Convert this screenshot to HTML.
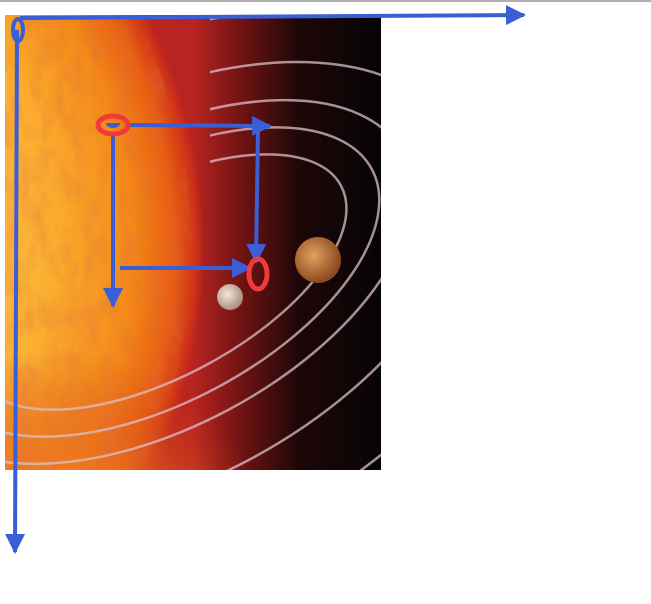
<!DOCTYPE html>
<html><head><meta charset="utf-8"><style>
html,body{margin:0;padding:0;background:#fff;width:651px;height:604px;overflow:hidden}
svg{display:block}
</style></head><body>
<svg width="651" height="604" viewBox="0 0 651 604">
<defs>
<radialGradient id="sunG" cx="-320" cy="250" r="525" gradientUnits="userSpaceOnUse">
<stop offset="0" stop-color="#ffe090"/>
<stop offset="0.7" stop-color="#fbb030"/>
<stop offset="0.86" stop-color="#f48a18"/>
<stop offset="0.94" stop-color="#e85e12"/>
<stop offset="0.985" stop-color="#cc3018"/>
<stop offset="1" stop-color="#c02820" stop-opacity="0"/>
</radialGradient>
<radialGradient id="glowG" cx="60" cy="560" r="210" gradientUnits="userSpaceOnUse">
<stop offset="0.4" stop-color="#f07a20" stop-opacity="0.9"/>
<stop offset="1" stop-color="#d04018" stop-opacity="0"/>
</radialGradient>
<linearGradient id="spaceG" x1="5" x2="381" y1="0" y2="0" gradientUnits="userSpaceOnUse">
<stop offset="0" stop-color="#c02a20"/>
<stop offset="0.5" stop-color="#b82420"/>
<stop offset="0.64" stop-color="#6a1212"/>
<stop offset="0.78" stop-color="#1e0708"/>
<stop offset="1" stop-color="#060406"/>
</linearGradient>
<radialGradient id="venusG" cx="0.4" cy="0.4" r="0.6">
<stop offset="0" stop-color="#e0a060"/><stop offset="1" stop-color="#8a4a20"/>
</radialGradient>
<radialGradient id="moonG" cx="0.4" cy="0.4" r="0.6">
<stop offset="0" stop-color="#f4e6d6"/><stop offset="1" stop-color="#a89080"/>
</radialGradient>
<clipPath id="imgClip"><rect x="5" y="15" width="376" height="455"/></clipPath>
<clipPath id="sunClip"><circle cx="-320" cy="250" r="512"/></clipPath>
<clipPath id="orbClip"><polygon points="210,0 400,0 400,500 0,500 0,370 210,258"/></clipPath>
<filter id="tex" x="0" y="0" width="1" height="1">
<feTurbulence type="fractalNoise" baseFrequency="0.06 0.03" numOctaves="3" seed="4"/>
<feColorMatrix values="0 0 0 0 0.75  0 0 0 0 0.15  0 0 0 0 0.05  0 0 0 1.4 -0.55"/>
</filter>
<marker id="ah" viewBox="0 0 10 10" refX="9" refY="5" markerWidth="5" markerHeight="5" orient="auto-start-reverse">
<path d="M0,0 L10,5 L0,10 z" fill="#3a5ed6"/></marker>
</defs>
<line x1="0" y1="1" x2="651" y2="1" stroke="#b0b0b0" stroke-width="2"/>
<g clip-path="url(#imgClip)">
<rect x="5" y="15" width="376" height="455" fill="url(#spaceG)"/>
<circle cx="-320" cy="250" r="525" fill="url(#sunG)"/>
<circle cx="60" cy="560" r="210" fill="url(#glowG)"/>
<g clip-path="url(#sunClip)"><rect x="5" y="15" width="200" height="455" filter="url(#tex)" opacity="0.55"/></g>
<g fill="none" stroke="#d8c0c8" stroke-opacity="0.75" stroke-width="2.5" clip-path="url(#orbClip)">
<ellipse cx="160" cy="282" rx="205" ry="95" transform="rotate(-28 160 282)"/>
<ellipse cx="160" cy="282" rx="240" ry="120" transform="rotate(-28 160 282)"/>
<ellipse cx="160" cy="282" rx="275" ry="145" transform="rotate(-28 160 282)"/>
<ellipse cx="160" cy="292" rx="335" ry="190" transform="rotate(-28 160 292)"/>
<ellipse cx="160" cy="302" rx="415" ry="250" transform="rotate(-28 160 302)"/>
</g>
<circle cx="318" cy="260" r="23" fill="url(#venusG)"/>
<circle cx="230" cy="297" r="13" fill="url(#moonG)"/>
</g>
<g stroke="#3a5ed6" fill="none">
<line x1="20" y1="18" x2="524" y2="15" stroke-width="4" marker-end="url(#ah)"/>
<line x1="17" y1="30" x2="15" y2="552" stroke-width="4" marker-end="url(#ah)"/>
<ellipse cx="18" cy="30" rx="5" ry="11" stroke-width="4"/>
<line x1="130" y1="125" x2="270" y2="126" stroke-width="4" marker-end="url(#ah)"/>
<line x1="258" y1="128" x2="256" y2="262" stroke-width="4" marker-end="url(#ah)"/>
<line x1="113" y1="135" x2="113" y2="306" stroke-width="4" marker-end="url(#ah)"/>
<line x1="120" y1="268" x2="250" y2="268" stroke-width="4" marker-end="url(#ah)"/>
</g>
<ellipse cx="113" cy="125" rx="15" ry="9" fill="none" stroke="#f03a3a" stroke-width="5"/>
<path d="M106,123 A7,5 0 0 0 120,123 z" fill="#3a5ed6"/>
<ellipse cx="258" cy="274" rx="9" ry="15" fill="none" stroke="#f03a3a" stroke-width="5"/>
</svg>
</body></html>
